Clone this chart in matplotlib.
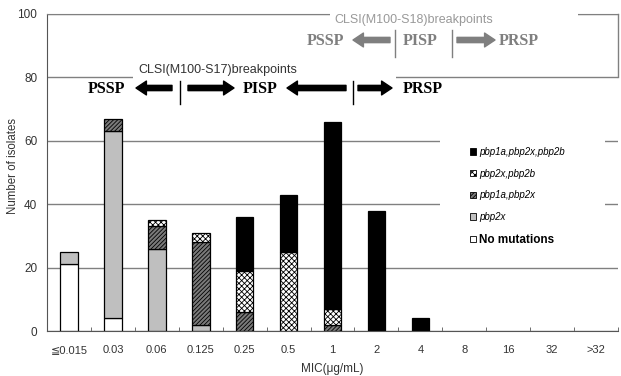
import numpy as np
import matplotlib
matplotlib.use("Agg")
from matplotlib import pyplot as plt
from matplotlib.patches import Patch, Rectangle

plt.rcParams['font.family'] = ['Liberation Sans', 'DejaVu Sans']
plt.rcParams['hatch.linewidth'] = 0.6

# MIC categories and number of isolates per genotype
mic_labels = ['≦0.015', '0.03', '0.06', '0.125', '0.25', '0.5', '1', '2', '4',
              '8', '16', '32', '>32']
no_mutations = [21, 4, 0, 0, 0, 0, 0, 0, 0, 0, 0, 0, 0]
pbp2x = [4, 59, 26, 2, 0, 0, 0, 0, 0, 0, 0, 0, 0]
pbp1a_pbp2x = [0, 4, 7, 26, 6, 0, 2, 0, 0, 0, 0, 0, 0]
pbp2x_pbp2b = [0, 0, 2, 3, 13, 25, 5, 0, 0, 0, 0, 0, 0]
pbp1a_pbp2x_pbp2b = [0, 0, 0, 0, 17, 18, 59, 38, 4, 0, 0, 0, 0]

series = [
    ('No mutations', no_mutations, dict(facecolor='white')),
    ('pbp2x', pbp2x, dict(facecolor='#bfbfbf')),
    ('pbp1a,pbp2x', pbp1a_pbp2x, dict(facecolor='#7a7a7a', hatch='////////')),
    ('pbp2x,pbp2b', pbp2x_pbp2b, dict(facecolor='white', hatch='xxxxxx')),
    ('pbp1a,pbp2x,pbp2b', pbp1a_pbp2x_pbp2b, dict(facecolor='black')),
]

W, H = 621, 376
fig = plt.figure(figsize=(W / 100, H / 100), dpi=100)
ax = fig.add_axes([47 / W, 1 - 331 / H, 571 / W, 317 / H])


def fpx(x, y):
    # pixel position in the picture -> figure fraction
    return (x / W, 1 - y / H)


x = np.arange(len(mic_labels))
bottom = np.zeros(len(mic_labels))
handles = []
for name, vals, style in series:
    vals = np.array(vals, dtype=float)
    keep = vals > 0
    ax.bar(x[keep], vals[keep], width=0.4, bottom=bottom[keep], edgecolor='black',
           linewidth=0.9, zorder=2, **style)
    bottom += vals
    handles.append(Patch(edgecolor='black', linewidth=0.6, **style, label=name))

ax.set_xlim(-0.5, len(mic_labels) - 0.5)
ax.set_ylim(0, 100)
ax.set_yticks(np.arange(0, 101, 20))
ax.set_xticks(x)
ax.set_xticklabels(mic_labels)
ax.set_xticks(np.arange(-0.5, len(mic_labels)), minor=True)
ax.tick_params(axis='x', which='major', length=0, pad=10, labelsize=8, labelcolor='#333333')
ax.tick_params(axis='x', which='minor', length=3, direction='in', color='#555555')
ax.tick_params(axis='y', length=0, pad=7, labelsize=8.5, labelcolor='#333333')

ax.set_axisbelow(True)
ax.yaxis.grid(True, color='#808080', linewidth=1)
for side in ['left', 'bottom']:
    ax.spines[side].set_color('#555555')
ax.spines['top'].set_color('#808080')
ax.spines['right'].set_visible(False)
ax.plot([1, 1], [0.8, 1.0], transform=ax.transAxes, color='#808080',
        linewidth=1, clip_on=False)

ax.set_ylabel('Number of isolates', fontsize=8.3, color='#333333')
ax.yaxis.set_label_coords(-0.049, 0.52)
ax.set_xlabel('MIC(μg/mL)', fontsize=8.5, color='#333333')
ax.xaxis.set_label_coords(0.5, -0.1)

# white boxes behind the breakpoint notes and the legend
for (x0, y0, x1, y1) in [(330, 4, 578, 66), (133, 58, 396, 110), (440, 135, 605, 250)]:
    ax.add_patch(Rectangle(fpx(x0, y1), (x1 - x0) / W, (y1 - y0) / H,
                           transform=fig.transFigure, facecolor='white',
                           edgecolor='none', zorder=2.6, clip_on=False))


def arrow(tail, head, color):
    ax.annotate('', xy=fpx(*head), xytext=fpx(*tail), xycoords='figure fraction',
                textcoords='figure fraction', zorder=4,
                arrowprops=dict(arrowstyle='simple,head_length=0.75,head_width=1.0,tail_width=0.38',
                                mutation_scale=10, color=color, shrinkA=0, shrinkB=0))


def vbar(xp, y0, y1, color):
    ax.plot([fpx(xp, y0)[0]] * 2, [fpx(xp, y0)[1], fpx(xp, y1)[1]],
            transform=fig.transFigure, color=color, linewidth=1, clip_on=False, zorder=4)


def serif(xp, yp, s, color):
    fig.text(*fpx(xp, yp), s, ha='center', va='center', family='Liberation Serif',
             fontweight='bold', fontsize=11.5, color=color)


# CLSI M100-S17
fig.text(*fpx(218, 70), 'CLSI(M100-S17)breakpoints', ha='center', va='center',
         fontsize=9, color='#333333')
serif(106, 89, 'PSSP', 'black')
serif(260, 89, 'PISP', 'black')
serif(423, 89, 'PRSP', 'black')
arrow((172, 88), (136, 88), 'black')
arrow((188, 88), (234, 88), 'black')
arrow((346, 88), (287, 88), 'black')
arrow((358, 88), (392, 88), 'black')
vbar(180, 81, 104, 'black')
vbar(353, 81, 104, 'black')

# CLSI M100-S18
gray = '#7f7f7f'
fig.text(*fpx(414, 20), 'CLSI(M100-S18)breakpoints', ha='center', va='center',
         fontsize=9, color='#999999')
serif(325, 41, 'PSSP', gray)
serif(420, 41, 'PISP', gray)
serif(519, 41, 'PRSP', gray)
arrow((390, 40), (353, 40), gray)
arrow((457, 40), (495, 40), gray)
vbar(395, 30, 57, gray)
vbar(452, 30, 57, gray)

leg = ax.legend(handles=handles[::-1], loc='upper left',
                bbox_to_anchor=fpx(470, 147), bbox_transform=fig.transFigure,
                frameon=False, fontsize=7, handlelength=0.6, handleheight=0.6,
                handletextpad=0.35, labelspacing=1.2, borderpad=0, borderaxespad=0)
leg.set_zorder(5)
for t in leg.get_texts():
    if t.get_text() == 'No mutations':
        t.set_fontweight('bold')
        t.set_fontsize(8.5)
    else:
        t.set_fontstyle('italic')

fig.savefig('out.png', dpi=100)
